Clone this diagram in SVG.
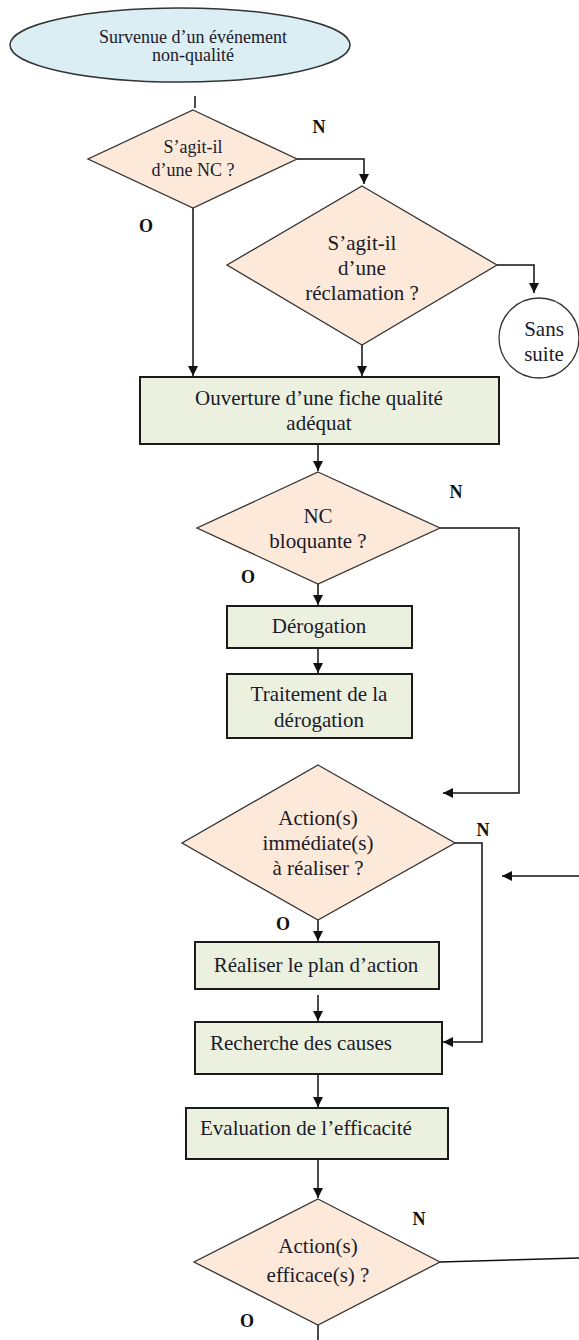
<svg xmlns="http://www.w3.org/2000/svg" width="579" height="1340" viewBox="0 0 579 1340">
<style>
text{font-family:"Liberation Serif","Times New Roman",serif;fill:#1a1a2a;text-anchor:middle}
.t{font-size:21px}
.s{font-size:18px}
.lab{font-size:18px;font-weight:bold;fill:#111}
.dia{fill:#fde9d9;stroke:#333;stroke-width:1.3}
.box{fill:#ebf1de;stroke:#1a1a1a;stroke-width:2}
.ell{fill:#daeef3;stroke:#333;stroke-width:1.5}
.circ{fill:#fff;stroke:#333;stroke-width:1.3}
.c{fill:none;stroke:#111;stroke-width:1.5}
.ca{fill:none;stroke:#111;stroke-width:1.5;marker-end:url(#ah)}
</style>
<defs>
<marker id="ah" markerUnits="userSpaceOnUse" markerWidth="10" markerHeight="10" viewBox="0 0 10 10" refX="10" refY="5" orient="auto">
<path d="M0,0 L10,5 L0,10 z" fill="#111"/>
</marker>
</defs>
<rect width="579" height="1340" fill="#fff"/>
<g id="connectors">
<path class="c" d="M195,96 V108"/>
<path class="ca" d="M297,159 H364 V184"/>
<path class="ca" d="M193,208 V376"/>
<path class="ca" d="M497,265 H534 V293"/>
<path class="ca" d="M362,345 V376"/>
<path class="ca" d="M318,444 V471"/>
<path class="ca" d="M440,528 H519 V793 H443"/>
<path class="ca" d="M318,584 V605"/>
<path class="ca" d="M318,648 V673"/>
<path class="ca" d="M318,920 V941"/>
<path class="ca" d="M318,995 V1021"/>
<path class="ca" d="M455,843 H482 V1042 H443"/>
<path class="ca" d="M579,876 H502"/>
<path class="ca" d="M318,1074 V1107"/>
<path class="ca" d="M318,1159 V1198"/>
<path class="c" d="M440,1262 L579,1258"/>
<path class="c" d="M318,1325 V1340"/>
</g>
<g id="start">
<ellipse class="ell" cx="180" cy="45" rx="170" ry="37"/>
<text class="s" x="193" y="43" font-size="16">Survenue d’un événement</text>
<text class="s" x="193" y="61" font-size="16">non-qualité</text>
</g>
<g id="q-nc">
<polygon class="dia" points="193,110 297,159 193,208 88,159"/>
<text class="s" x="193" y="153">S’agit-il</text>
<text class="s" x="193" y="176">d’une NC ?</text>
</g>
<g id="q-reclamation">
<polygon class="dia" points="362,186 497,265 362,345 227,265"/>
<text class="t" x="362" y="250">S’agit-il</text>
<text class="t" x="362" y="275">d’une</text>
<text class="t" x="362" y="300">réclamation ?</text>
</g>
<g id="sans-suite">
<circle class="circ" cx="539" cy="338" r="40"/>
<text class="t" x="544" y="336">Sans</text>
<text class="t" x="544" y="361">suite</text>
</g>
<g id="fiche">
<rect class="box" x="140" y="377" width="359" height="67"/>
<text class="t" x="319" y="405">Ouverture d’une fiche qualité</text>
<text class="t" x="319" y="430">adéquat</text>
</g>
<g id="q-bloquante">
<polygon class="dia" points="318,472 440,528 318,584 197,528"/>
<text class="t" x="318" y="523">NC</text>
<text class="t" x="318" y="548">bloquante ?</text>
</g>
<g id="derogation">
<rect class="box" x="227" y="606" width="185" height="42"/>
<text class="t" x="319" y="633">Dérogation</text>
</g>
<g id="traitement">
<rect class="box" x="227" y="674" width="185" height="64"/>
<text class="t" x="319" y="701">Traitement de la</text>
<text class="t" x="319" y="727">dérogation</text>
</g>
<g id="q-immediate">
<polygon class="dia" points="318,765 455,843 318,920 182,843"/>
<text class="t" x="318" y="825">Action(s)</text>
<text class="t" x="318" y="850">immédiate(s)</text>
<text class="t" x="318" y="875">à réaliser ?</text>
</g>
<g id="realiser">
<rect class="box" x="195" y="942" width="244" height="47"/>
<text class="t" x="316" y="972">Réaliser le plan d’action</text>
</g>
<g id="recherche">
<rect class="box" x="195" y="1022" width="247" height="52"/>
<text class="t" x="210" y="1050" style="text-anchor:start">Recherche des causes</text>
</g>
<g id="evaluation">
<rect class="box" x="186" y="1108" width="262" height="51"/>
<text class="t" x="200" y="1135" style="text-anchor:start">Evaluation de l’efficacité</text>
</g>
<g id="q-efficace">
<polygon class="dia" points="318,1199 440,1262 318,1325 194,1262"/>
<text class="t" x="318" y="1253">Action(s)</text>
<text class="t" x="318" y="1282">efficace(s) ?</text>
</g>
<g id="labels">
<text class="lab" x="319" y="133">N</text>
<text class="lab" x="146" y="232">O</text>
<text class="lab" x="456" y="498">N</text>
<text class="lab" x="248" y="583">O</text>
<text class="lab" x="483" y="836">N</text>
<text class="lab" x="283" y="930">O</text>
<text class="lab" x="419" y="1225">N</text>
<text class="lab" x="247" y="1327">O</text>
</g>
</svg>
